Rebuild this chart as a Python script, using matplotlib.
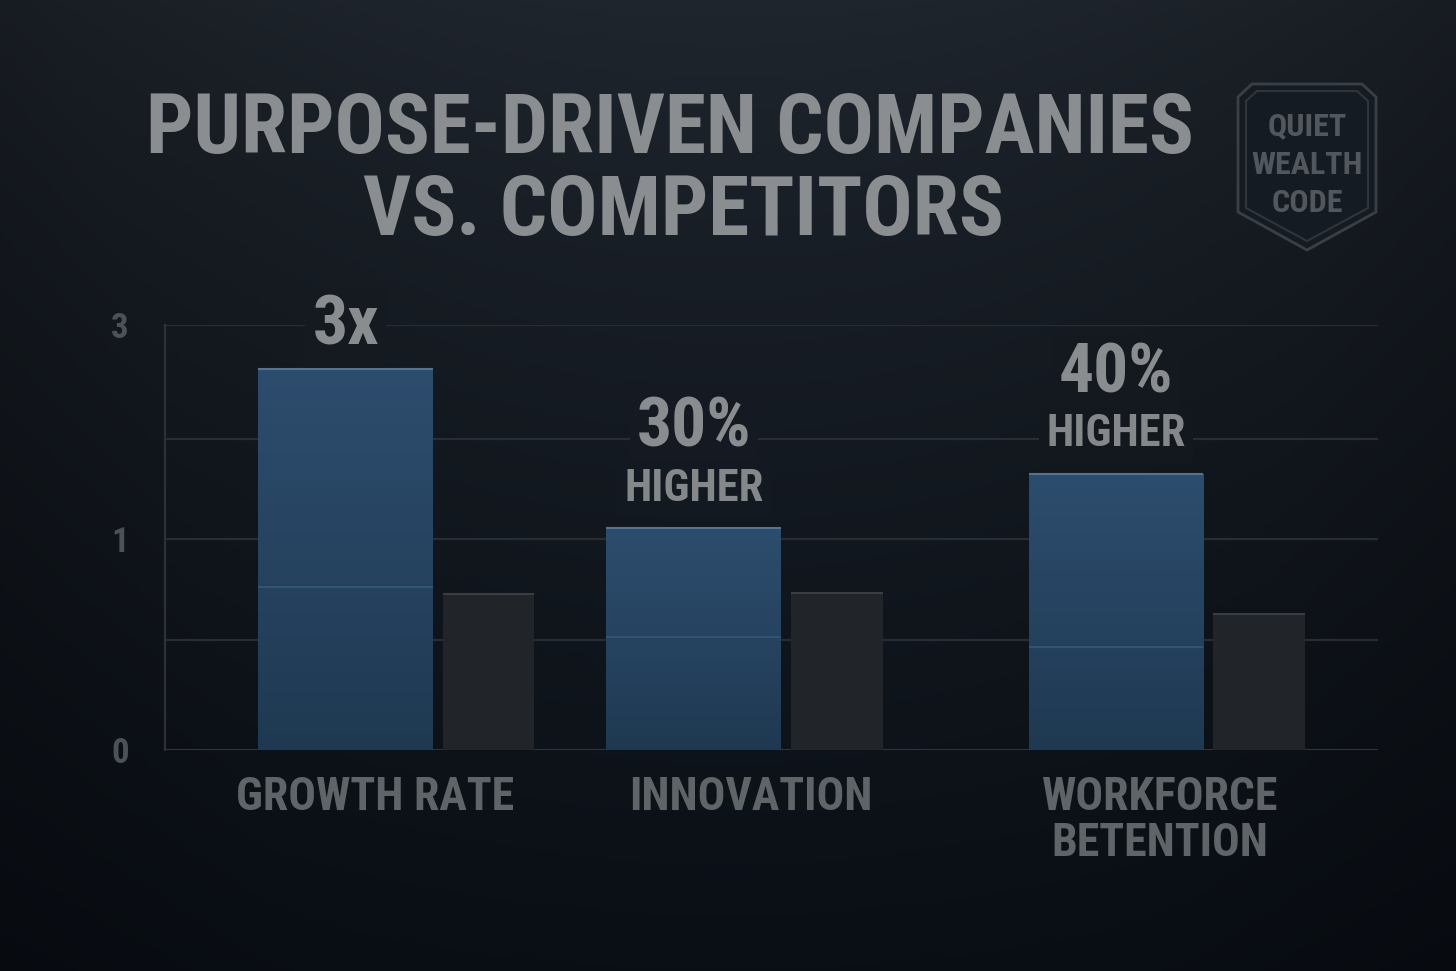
import matplotlib.pyplot as plt
import numpy as np
from matplotlib.patches import Polygon
from matplotlib import font_manager as fm

# 数据
categories = ['GROWTH RATE', 'INNOVATION', 'WORKFORCE\nBETENTION']
purpose = [3.59, 2.09, 2.60]         # 蓝色柱
purpose_split = [1.53, 1.06, 0.97]   # 蓝色柱内的分割线
competitors = [1.47, 1.48, 1.28]     # 深色柱
callouts = ['3x', '30%', '40%']
callout_sub = ['', 'HIGHER', 'HIGHER']
ytick_pos = [0, 1.99, 4]
ytick_labels = ['0', '1', '3']

# 布局
group_x = [0.608, 1.524, 2.634]
label_x = [0.552, 1.541, 2.617]
grid_y = [1.035, 1.986, 2.927, 4]
blue_w, dark_w, gap = 0.46, 0.24, 0.026

W, H = 1456, 971
PPU = 106.25   # 每单位像素
XPU = 380.25

# 找一个窄体粗字体
cond_file = None
files = [f.fname for f in fm.fontManager.ttflist]
for key in ['RobotoCondensed-Bold', 'LiberationSansNarrow-Bold.', 'DejaVuSansCondensed-Bold.',
            'NotoSans-CondensedBold', 'OpenSans_Condensed-Bold', 'OpenSansCondensed-Bold']:
    hit = [f for f in files if key in f.replace(' ', '')]
    if hit:
        cond_file = hit[0]
        break
if cond_file:
    cond = fm.FontProperties(fname=cond_file)
    k = 1.0
else:
    cond = fm.FontProperties(family='Roboto', weight='bold')
    k = 0.86


def fp(size):
    p = cond.copy()
    p.set_size(size * k)
    return p


def bg_rgb(yf, xf=0.5):
    # yf: 0 顶部 ... 1 底部
    top = np.array([0x20, 0x26, 0x2e]) / 255
    bot = np.array([0x0a, 0x0f, 0x16]) / 255
    t = np.clip(yf, 0, 1) ** 0.8
    vig = 1 - 0.25 * np.clip(np.abs(xf - 0.5) / 0.5, 0, 1) ** 2
    return (top * (1 - t) + bot * t) * vig


fig = plt.figure(figsize=(W / 100, H / 100), dpi=100)

# 背景渐变
bg = fig.add_axes([0, 0, 1, 1], zorder=-10)
ys = np.linspace(0, 1, 300)
xs = np.linspace(0, 1, 450)
img = np.array([[bg_rgb(y, x) for x in xs] for y in ys])
bg.imshow(img, extent=[0, 1, 0, 1], aspect='auto', origin='upper')
bg.axis('off')

ax = fig.add_axes([165 / W, 1 - 750 / H, 1213 / W, 425 / H])
ax.set_facecolor('none')

for y in grid_y:
    ax.axhline(y, color='#272d34', lw=1.6, zorder=1)
ax.axhline(0, color='#2f353c', lw=2.2, zorder=1)

gx = np.array(group_x)
total = blue_w + gap + dark_w
bx = gx - total / 2 + blue_w / 2
dx = gx + total / 2 - dark_w / 2

blue_bars = ax.bar(bx, purpose, width=blue_w, color='#27455f', edgecolor='none', zorder=3)
ax.bar(dx, competitors, width=dark_w, color='#212529', edgecolor='none', zorder=3)

# 蓝色柱的竖向渐变
grad = np.linspace(0, 1, 100)[:, None]
c_top = np.array([0x2d, 0x4d, 0x6e]) / 255
c_bot = np.array([0x1f, 0x39, 0x52]) / 255
gimg = c_top[None, None, :] * (1 - grad[..., None]) + c_bot[None, None, :] * grad[..., None]
for rect in blue_bars:
    x0, w, h = rect.get_x(), rect.get_width(), rect.get_height()
    im = ax.imshow(gimg, extent=[x0, x0 + w, 0, h], aspect='auto', origin='upper', zorder=3.5)
    im.set_clip_path(rect)

ax.hlines(purpose, bx - blue_w / 2, bx + blue_w / 2, color='#4f7499', lw=1.5, zorder=4)
ax.hlines(purpose_split, bx - blue_w / 2, bx + blue_w / 2, color='#36597a', lw=1.2, zorder=4)
ax.hlines(competitors, dx - dark_w / 2, dx + dark_w / 2, color='#393e44', lw=1.5, zorder=4)

ax.set_xlim(0, 3.19)
ax.set_ylim(0, 4)


def mask(xv, yv):
    c = bg_rgb((750 - yv * PPU) / H, (165 + xv * XPU) / W)
    return dict(facecolor=c, edgecolor='none', pad=5)


for x, top, main, sub in zip(bx, purpose, callouts, callout_sub):
    if sub:
        yv = top + 0.94
        ax.text(x, yv, main, ha='center', va='center', fontproperties=fp(50),
                color='#8a8d90', bbox=mask(x, yv), zorder=5)
        yv = top + 0.37
        ax.text(x, yv, sub, ha='center', va='center', fontproperties=fp(32),
                color='#85888b', bbox=mask(x, yv), zorder=5)
    else:
        yv = top + 0.40
        ax.text(x, yv, main, ha='center', va='center', fontproperties=fp(50),
                color='#8a8d90', bbox=mask(x, yv), zorder=5)

ax.set_xticks(label_x, categories)
ax.set_yticks(ytick_pos, ytick_labels)
ax.tick_params(axis='x', length=0, pad=18, labelcolor='#5f6468')
ax.tick_params(axis='y', length=0, pad=26, labelcolor='#4b5158')
for lab in ax.get_xticklabels():
    lab.set_fontproperties(fp(33))
    lab.set_linespacing(1.05)
for lab in ax.get_yticklabels():
    lab.set_fontproperties(fp(25))

for s in ['top', 'right', 'bottom']:
    ax.spines[s].set_visible(False)
ax.spines['left'].set_color('#2b3137')
ax.spines['left'].set_linewidth(1.6)

# 标题
fig.text(670 / W, 1 - 130 / H, 'PURPOSE-DRIVEN COMPANIES', ha='center', va='center',
         fontproperties=fp(60), color='#8b8e91')
fig.text(683 / W, 1 - 213 / H, 'VS. COMPETITORS', ha='center', va='center',
         fontproperties=fp(60), color='#8b8e91')


# 标志
def px(pts):
    return [(x / W, 1 - y / H) for x, y in pts]


outer = [(1238, 97), (1252, 84), (1362, 84), (1376, 97), (1376, 212), (1307, 250), (1238, 212)]
inner = [(1246, 101), (1257, 91), (1357, 91), (1368, 101), (1368, 208), (1307, 241), (1246, 208)]
fig.add_artist(Polygon(px(outer), closed=True, facecolor='#151b22', edgecolor='#3a3f45',
                       lw=2, transform=fig.transFigure, zorder=1))
fig.add_artist(Polygon(px(inner), closed=True, facecolor='none', edgecolor='#30353b',
                       lw=1.5, transform=fig.transFigure, zorder=1))
for word, y in zip(['QUIET', 'WEALTH', 'CODE'], [126, 165, 203]):
    fig.text(1307 / W, 1 - y / H, word, ha='center', va='center', fontproperties=fp(23),
             color='#52575d', zorder=2)

fig.savefig('out.png', dpi=100, facecolor='#0f141a')
